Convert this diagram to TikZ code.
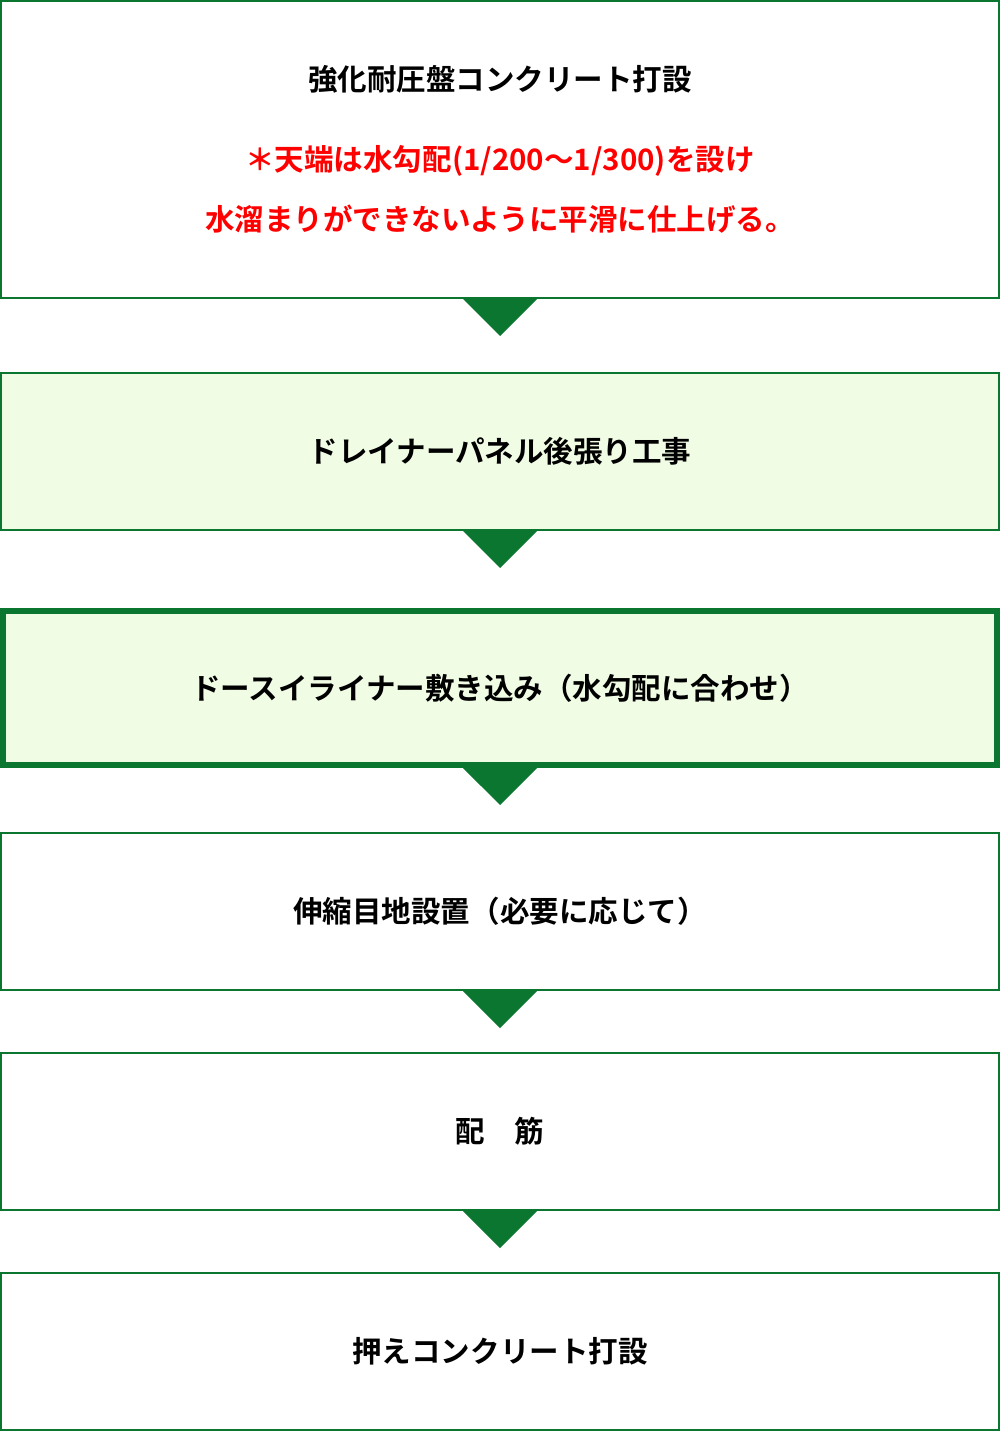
\documentclass[tikz,border=0pt]{standalone}
\usepackage{fontspec}
\newfontfamily\jpfont{Noto Sans CJK JP Bold}
\usetikzlibrary{positioning}
\definecolor{flowgreen}{RGB}{11,118,48}
\definecolor{paleleaf}{RGB}{240,252,228}
\definecolor{notered}{RGB}{255,0,0}

\begin{document}
\begin{tikzpicture}[auto ,
    stepbox/.style ={rectangle ,draw =flowgreen ,line width =0.02cm ,
    minimum width =9.98cm ,minimum height =1.57cm ,inner sep =0pt ,
    font =\jpfont\fontsize{8.4}{17.07}\selectfont ,align =center},
    shaded/.style ={stepbox ,fill =paleleaf},
    current/.style ={shaded ,line width =0.06cm ,minimum width =9.94cm ,
    minimum height =1.54cm},
    drop/.style ={fill =flowgreen}
    ]
    \useasboundingbox (0,0) rectangle (10,-14.32);

    \node[stepbox ,minimum height =2.97cm] (slab) at (5,-1.495)
      {強化耐圧盤コンクリート打設\\[5.69pt]
       \textcolor{notered}{＊天端は水勾配(1/200～1/300)を設け}\\
       \textcolor{notered}{水溜まりができないように平滑に仕上げる。}};
    \node[shaded] (panel) at (5,-4.515) {ドレイナーパネル後張り工事};
    \node[current] (liner) at (5,-6.88) {ドースイライナー敷き込み（水勾配に合わせ）};
    \node[stepbox] (joint) at (5,-9.115) {伸縮目地設置（必要に応じて）};
    \node[stepbox] (rebar) at (5,-11.315) {配　筋};
    \node[stepbox] (cover) at (5,-13.515) {押えコンクリート打設};

    \fill[drop] (slab.south) ++(-0.37,0) -- ++(0.74,0) -- ++(-0.37,-0.37) -- cycle;
    \fill[drop] (panel.south) ++(-0.37,0) -- ++(0.74,0) -- ++(-0.37,-0.37) -- cycle;
    \fill[drop] (liner.south) ++(-0.37,0) -- ++(0.74,0) -- ++(-0.37,-0.37) -- cycle;
    \fill[drop] (joint.south) ++(-0.37,0) -- ++(0.74,0) -- ++(-0.37,-0.37) -- cycle;
    \fill[drop] (rebar.south) ++(-0.37,0) -- ++(0.74,0) -- ++(-0.37,-0.37) -- cycle;
\end{tikzpicture}
\end{document}
